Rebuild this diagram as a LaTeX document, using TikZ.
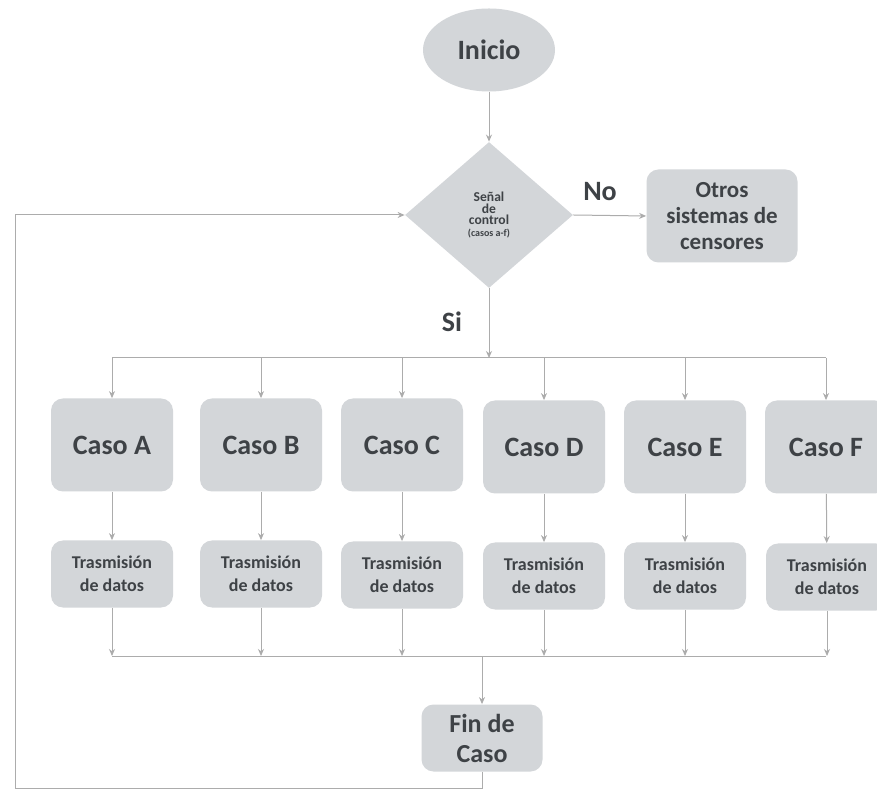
\documentclass[tikz,border=0pt]{standalone}
\usepackage{fontspec}
\setmainfont{Carlito}
\usetikzlibrary{shapes.geometric,arrows.meta}
\definecolor{boxgray}{RGB}{211,214,217}
\definecolor{linegray}{RGB}{172,172,172}
\definecolor{textgray}{RGB}{62,66,70}
\tikzset{
  caja/.style={fill=boxgray,rounded corners=6pt,align=center,text=textgray,inner sep=0pt},
  caso/.style={caja,minimum width=61pt,minimum height=46.5pt,font=\bfseries\fontsize{14}{16}\selectfont},
  trans/.style={caja,minimum width=61pt,minimum height=33.5pt,font=\bfseries\fontsize{9}{11.5}\selectfont},
  etiqueta/.style={text=textgray,font=\bfseries\fontsize{14}{16}\selectfont},
  linea/.style={draw=linegray,line width=0.5pt},
  flecha/.style={linea,-{Stealth[length=3.5pt,width=3pt]}},
}
\begin{document}
\begin{tikzpicture}[x=0.5pt,y=-0.5pt]
\useasboundingbox (0,0) rectangle (877,795);
\fill [white] (0,0) rectangle (877,795);
% inicio y decision
\node [ellipse,fill=boxgray,minimum width=66pt,minimum height=41.5pt,text=textgray,font=\bfseries\fontsize{14}{16}\selectfont] (inicio) at (489,50) {\raisebox{-2pt}{Inicio}};
\node [diamond,fill=boxgray,minimum width=84pt,minimum height=73pt,inner sep=0pt,align=center,text=textgray,font=\bfseries\fontsize{6.8}{5.8}\selectfont] (senal) at (489,215) {Señal\\de\\control\\{\fontsize{5}{5.5}\selectfont(casos a-f)}};
\node [caja,minimum width=75.5pt,minimum height=46.5pt,font=\bfseries\fontsize{11.5}{13}\selectfont] (otros) at (722,216) {Otros\\sistemas de\\censores};
\node [etiqueta] (no) at (600,192) {No};
\node [etiqueta] (si) at (452,322) {Si};
% casos
\node [caso] (casoA) at (112,445) {Caso A};
\node [caso] (casoB) at (261,445) {Caso B};
\node [caso] (casoC) at (402,445) {Caso C};
\node [caso] (casoD) at (544,447) {Caso D};
\node [caso] (casoE) at (685,447) {Caso E};
\node [caso] (casoF) at (826,447) {Caso F};
% trasmision
\node [trans] (trA) at (112,574) {Trasmisión\\de datos};
\node [trans] (trB) at (261,574) {Trasmisión\\de datos};
\node [trans] (trC) at (402,575) {Trasmisión\\de datos};
\node [trans] (trD) at (544,576) {Trasmisión\\de datos};
\node [trans] (trE) at (685,576) {Trasmisión\\de datos};
\node [trans] (trF) at (827,577) {Trasmisión\\de datos};
\node [caja,minimum width=60.5pt,minimum height=33.5pt,font=\bfseries\fontsize{13}{15}\selectfont] (fin) at (482,738) {Fin de\\Caso};
% lineas
\coordinate (busL) at (112,358);
\coordinate (busR) at (826,358);
\coordinate (baseL) at (112,656);
\coordinate (baseR) at (826,656);
\coordinate (retorno) at (15,788);
\draw [flecha] (inicio) -- (senal);
\draw [flecha] (senal.east) -- (otros.west);
\draw [flecha] (senal.south) -- (senal |- busL);
\draw [linea] (busL) -- (busR);
\draw [flecha] (casoA |- busL) -- (casoA);
\draw [flecha] (casoB |- busL) -- (casoB);
\draw [flecha] (casoC |- busL) -- (casoC);
\draw [flecha] (casoD |- busL) -- (casoD);
\draw [flecha] (casoE |- busL) -- (casoE);
\draw [flecha] (casoF |- busL) -- (casoF);
\draw [flecha] (casoA) -- (trA);
\draw [flecha] (casoB) -- (trB);
\draw [flecha] (casoC) -- (trC);
\draw [flecha] (casoD) -- (trD);
\draw [flecha] (casoE) -- (trE);
\draw [flecha] (casoF) -- (trF);
\draw [flecha] (trA) -- (trA |- baseL);
\draw [flecha] (trB) -- (trB |- baseL);
\draw [flecha] (trC) -- (trC |- baseL);
\draw [flecha] (trD) -- (trD |- baseL);
\draw [flecha] (trE) -- (trE |- baseL);
\draw [flecha] (trF) -- (trF |- baseL);
\draw [linea] (baseL) -- (baseR);
\draw [flecha] (fin |- baseL) -- (fin);
\draw [flecha] (fin.south) |- (retorno) |- (senal.west);
\end{tikzpicture}
\end{document}
